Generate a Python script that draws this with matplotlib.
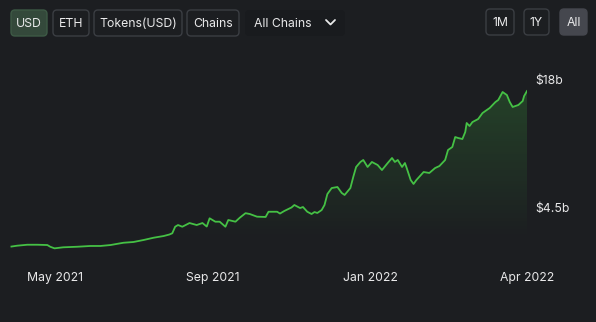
import matplotlib
matplotlib.use("Agg")
import matplotlib.pyplot as plt
import matplotlib.dates as mdates
import numpy as np
import pandas as pd
from matplotlib.patches import FancyBboxPatch
from matplotlib.colors import LinearSegmentedColormap

plt.rcParams["font.family"] = ["Inter", "DejaVu Sans"]

# data: days after start date, TVL in billions of USD
start = pd.Timestamp("2021-04-10")
days = [1, 5, 12, 19, 26, 28, 31, 37, 47, 56, 63, 70, 79, 86, 93, 100, 107,
        111, 113, 115, 117, 120, 125, 130, 134, 137, 139, 143, 146, 150, 152,
        157, 160, 164, 167, 172, 178, 180, 186, 188, 191, 196, 198, 202, 204,
        207, 210, 212, 214, 217, 219, 221, 224, 228, 231, 233, 237, 239, 241,
        244, 246, 249, 252, 256, 259, 263, 266, 268, 270, 273, 275, 276, 279,
        281, 283, 288, 292, 296, 299, 303, 305, 308, 310, 312, 315, 317, 318,
        320, 322, 326, 329, 332, 334, 338, 340, 343, 346, 348, 350, 354, 357,
        358, 360]
tvl = [0.33, 0.42, 0.52, 0.52, 0.49, 0.31, 0.14, 0.25, 0.31, 0.39, 0.39, 0.49,
       0.73, 0.81, 1.02, 1.26, 1.44, 1.60, 1.73, 2.42, 2.60, 2.42, 2.81, 2.60,
       2.81, 2.44, 3.31, 2.95, 2.95, 2.42, 3.13, 2.95, 3.37, 3.85, 3.76, 3.48,
       3.45, 4.00, 4.00, 3.81, 4.08, 4.45, 4.71, 4.39, 4.50, 4.00, 3.76, 3.97,
       3.87, 4.18, 4.71, 5.87, 6.50, 6.61, 5.98, 5.77, 6.50, 7.66, 8.72, 9.25,
       9.46, 8.72, 9.25, 8.93, 8.40, 9.14, 9.67, 9.25, 9.46, 8.72, 9.14, 8.72,
       7.35, 6.93, 7.35, 8.19, 8.09, 8.61, 8.82, 9.46, 10.51, 10.83, 11.88,
       11.78, 11.67, 12.41, 13.36, 13.04, 13.46, 13.78, 14.41, 14.73, 14.94,
       15.57, 15.79, 16.63, 16.31, 15.57, 15.05, 15.26, 15.68, 16.21, 16.73]

tick_days = [31, 141, 251, 360]
tick_labels = ["May 2021", "Sep 2021", "Jan 2022", "Apr 2022"]
ytick_vals = [4.5, 18]
ytick_labels = ["\\$4.5b", "\\$18b"]

left_buttons = ["USD", "ETH", "Tokens(USD)", "Chains"]
left_spans = [(11, 47), (53, 89), (94, 182), (187, 239)]
right_buttons = ["1M", "1Y", "All"]
right_spans = [(486, 514), (524, 549), (560, 587)]

bg = "#1c1e21"
green = "#45c145"
txt = "#e9e9ea"
fs = 8.8

dates = start + pd.to_timedelta(days, unit="D")
x = mdates.date2num(dates)

fig = plt.figure(figsize=(5.96, 3.22), dpi=100, facecolor=bg)
ax = fig.add_axes([10 / 596, 60 / 322, 517 / 596, 192 / 322])
ax.set_facecolor(bg)
ymin, ymax = -1.30, 18.95

# gradient fill under the line
poly = ax.fill_between(x, tvl, ymin, color="none", lw=0)
cmap = LinearSegmentedColormap.from_list(
    "g", [(0.27, 0.76, 0.27, 0.0), (0.27, 0.76, 0.27, 0.22)])
grad = np.linspace(0, 1, 256).reshape(-1, 1)
im = ax.imshow(grad, cmap=cmap, aspect="auto", origin="lower",
               extent=[x[0], x[-1], 1.0, max(tvl)], zorder=1)
im.set_clip_path(poly.get_paths()[0], transform=ax.transData)
ax.set_xlim(mdates.date2num(start), mdates.date2num(start + pd.Timedelta(days=360)))
ax.set_ylim(ymin, ymax)

ax.plot(x, tvl, color=green, lw=1.3, zorder=3, solid_joinstyle="round")

ax.set_xticks(mdates.date2num(start + pd.to_timedelta(tick_days, unit="D")))
ax.set_xticklabels(tick_labels)
ax.set_yticks(ytick_vals)
ax.set_yticklabels(ytick_labels)
ax.yaxis.tick_right()
ax.tick_params(axis="x", length=0, pad=7, colors=txt, labelsize=fs)
ax.tick_params(axis="y", length=0, pad=6, colors=txt, labelsize=fs)
for s in ax.spines.values():
    s.set_visible(False)

# toolbar buttons drawn in pixel space
ui = fig.add_axes([0, 0, 1, 1])
ui.set_xlim(0, 596)
ui.set_ylim(322, 0)
ui.axis("off")
ui.patch.set_alpha(0)

for i, (lab, (x0, x1)) in enumerate(zip(left_buttons, left_spans)):
    fc = "#34493b" if i == 0 else bg
    ec = "#3d5a45" if i == 0 else "#3b3e43"
    ui.add_patch(FancyBboxPatch((x0, 10), x1 - x0, 26,
                                boxstyle="round,pad=0,rounding_size=4",
                                fc=fc, ec=ec, lw=1))
    ui.text((x0 + x1) / 2, 23.5, lab, color=txt, fontsize=fs,
            ha="center", va="center")

ui.add_patch(FancyBboxPatch((245, 10), 100, 26,
                            boxstyle="round,pad=0,rounding_size=4",
                            fc="#191b1e", ec="none"))
ui.text(254, 23.5, "All Chains", color=txt, fontsize=fs, ha="left", va="center")
ui.plot([326, 330.5, 335], [20, 24.5, 20], color=txt, lw=1.3,
        solid_capstyle="round", solid_joinstyle="round")

for lab, (x0, x1) in zip(right_buttons, right_spans):
    sel = lab == "All"
    ui.add_patch(FancyBboxPatch((x0, 9), x1 - x0, 26,
                                boxstyle="round,pad=0,rounding_size=4",
                                fc="#45474e" if sel else bg,
                                ec="#45474e" if sel else "#3b3e43", lw=1))
    ui.text((x0 + x1) / 2, 22.5, lab, color=txt, fontsize=fs,
            ha="center", va="center")

fig.savefig("out.png", dpi=100, facecolor=bg)
